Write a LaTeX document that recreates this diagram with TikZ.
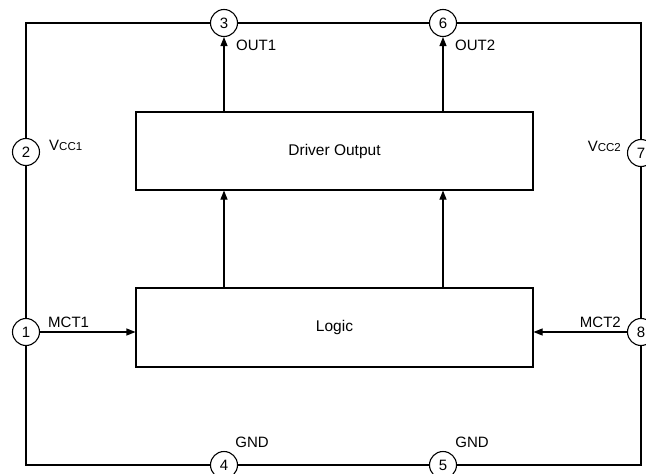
\documentclass[tikz,border=0pt]{standalone}
\usepackage{fontspec}
\setmainfont{Liberation Sans}
\usetikzlibrary{arrows.meta}
\begin{document}
\begin{tikzpicture}[x=1pt,y=-1pt,
  pin/.style={circle,draw,fill=white,line width=1.1pt,minimum size=27pt,inner sep=0pt,font=\fontsize{15}{15}\selectfont},
  blk/.style={draw,line width=1.1pt,inner sep=0pt,font=\fontsize{15.5}{15.5}\selectfont},
  lbl/.style={inner sep=0pt,font=\fontsize{15}{15}\selectfont},
  arr/.style={line width=1.1pt,-{Triangle[length=9pt,width=7pt]}},
  frame/.style={line width=1.6pt}]
\useasboundingbox (0,0) rectangle (646,474);
\draw[frame] (26,23) rectangle (641,465);
\node[pin] (p3) at (224,23) {3};
\node[pin] (p6) at (443,23) {6};
\node[pin] (p2) at (26,152) {2};
\node[pin] (p1) at (26,332) {1};
\node[pin] (p7) at (641,153) {7};
\node[pin] (p8) at (641,332) {8};
\node[pin] (p4) at (224,465) {4};
\node[pin] (p5) at (443,465) {5};
\node[blk,minimum width=397pt,minimum height=78pt] (drv) at (334.5,151) {Driver Output};
\node[blk,minimum width=397pt,minimum height=79pt] (lgc) at (334.5,327.5) {Logic};
\draw[arr] (drv.north -| p3) -- (p3);
\draw[arr] (drv.north -| p6) -- (p6);
\draw[arr] (lgc.north -| p3) -- (drv.south -| p3);
\draw[arr] (lgc.north -| p6) -- (drv.south -| p6);
\draw[arr] (p1) -- (lgc.west |- p1);
\draw[arr] (p8) -- (lgc.east |- p8);
\node[lbl,anchor=west] (out1) at (236,45) {OUT1};
\node[lbl,anchor=west] (out2) at (455,45) {OUT2};
\node[lbl,anchor=base west] (vcc1) at (49,150) {V{\fontsize{11.5}{11.5}\selectfont CC1}};
\node[lbl,anchor=base east] (vcc2) at (621,151) {V{\fontsize{11.5}{11.5}\selectfont CC2}};
\node[lbl,anchor=base west] (mct1) at (48,327) {MCT1};
\node[lbl,anchor=base east] (mct2) at (621,327) {MCT2};
\node[lbl,anchor=base] (gnd1) at (252,447) {GND};
\node[lbl,anchor=base] (gnd2) at (472,447) {GND};
\end{tikzpicture}
\end{document}
